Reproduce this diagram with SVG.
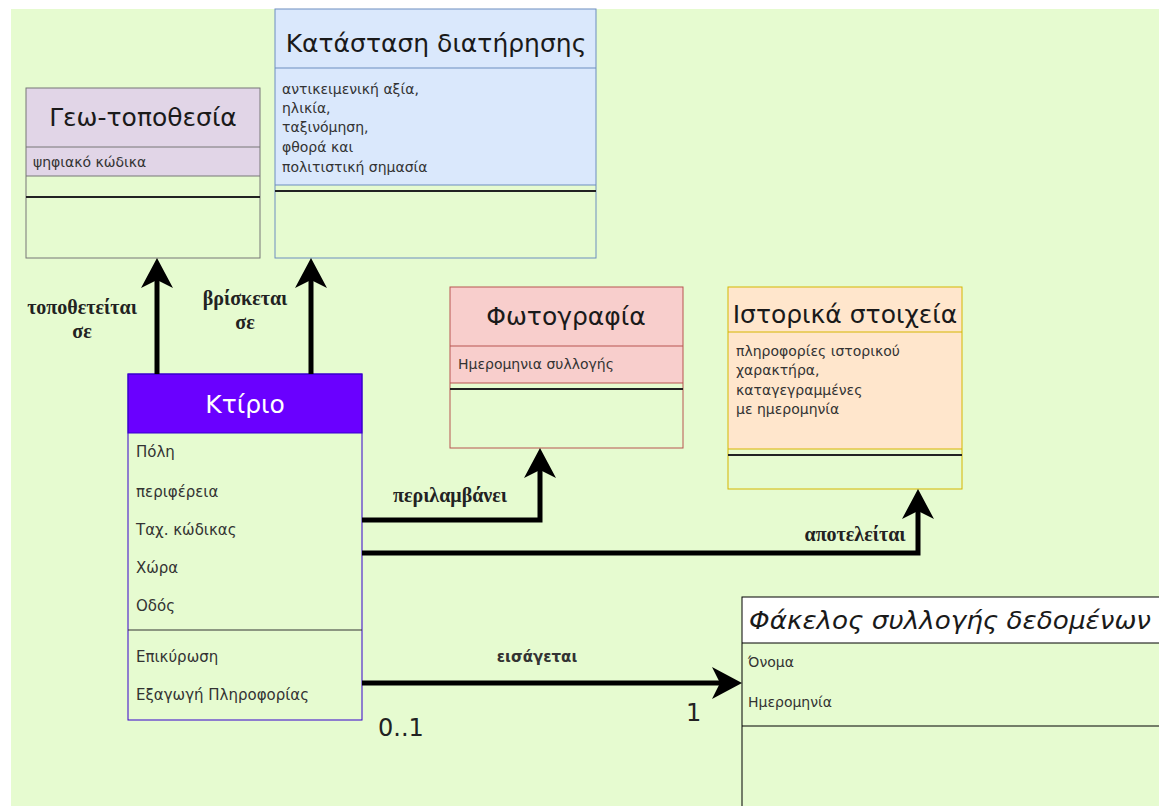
<svg xmlns="http://www.w3.org/2000/svg" width="1159" height="806" viewBox="0 0 1159 806">
<defs>
<style>
.bg{fill:#e6fbd0}
.title{font-family:"DejaVu Sans","Liberation Sans",sans-serif;font-size:25px;fill:#1a1a1a}
.attr{font-family:"DejaVu Sans","Liberation Sans",sans-serif;font-size:14px;fill:#333}
.kattr{font-family:"DejaVu Sans","Liberation Sans",sans-serif;font-size:15px;fill:#333}
.lbl{font-family:"Liberation Serif","DejaVu Serif",serif;font-size:20px;font-weight:bold;fill:#222}
.mult{font-family:"DejaVu Sans","Liberation Sans",sans-serif;font-size:24px;fill:#222}
.conn{fill:none;stroke:#000;stroke-width:5}
.thin{stroke-width:1;fill:none}
.sep{stroke:#222;stroke-width:2}
</style>
<marker id="arr" viewBox="0 0 30 32" refX="15" refY="16" markerWidth="30" markerHeight="32" markerUnits="userSpaceOnUse" orient="auto">
<path d="M0,0 L30,16 L0,32 L8,16 Z" fill="#000"/>
</marker>
</defs>
<rect x="0" y="0" width="1159" height="806" fill="#ffffff"/>
<rect class="bg" x="11" y="9" width="1148" height="797"/>

<g id="geo">
<rect x="26" y="88" width="234" height="88" fill="#e1d5e7"/>
<rect x="26" y="88" width="234" height="170" class="thin" stroke="#777"/>
<line x1="26" y1="147" x2="260" y2="147" stroke="#777"/>
<line x1="26" y1="176" x2="260" y2="176" stroke="#777"/>
<line x1="26" y1="197" x2="260" y2="197" class="sep"/>
<text class="title" x="143" y="117" text-anchor="middle" dominant-baseline="central">Γεω-τοποθεσία</text>
<text class="attr" x="33" y="167">ψηφιακό κώδικα</text>
</g>

<g id="katastasi">
<rect x="275" y="9" width="321" height="176" fill="#dae8fc"/>
<rect x="275" y="9" width="321" height="249" class="thin" stroke="#6c8ebf"/>
<line x1="275" y1="68" x2="596" y2="68" stroke="#6c8ebf"/>
<line x1="275" y1="185" x2="596" y2="185" stroke="#6c8ebf"/>
<line x1="275" y1="191" x2="596" y2="191" class="sep"/>
<text class="title" x="436" y="43" text-anchor="middle" dominant-baseline="central">Κατάσταση διατήρησης</text>
<text class="attr" x="282" y="94">αντικειμενική αξία,</text>
<text class="attr" x="282" y="113"> ηλικία,</text>
<text class="attr" x="282" y="132">ταξινόμηση,</text>
<text class="attr" x="282" y="152">φθορά και</text>
<text class="attr" x="282" y="172">πολιτιστική σημασία</text>
</g>

<g id="ktirio">
<rect x="128" y="374" width="234" height="59" fill="#6a00ff" stroke="#3700cc"/>
<rect x="128" y="374" width="234" height="346" class="thin" stroke="#3700cc"/>
<line x1="128" y1="630" x2="362" y2="630" stroke="#333"/>
<text class="title" x="245" y="404" text-anchor="middle" dominant-baseline="central" style="fill:#fff;font-size:25px">Κτίριο</text>
<text class="kattr" x="136" y="457">Πόλη</text>
<text class="kattr" x="136" y="497">περιφέρεια</text>
<text class="kattr" x="136" y="535">Ταχ. κώδικας</text>
<text class="kattr" x="136" y="573">Χώρα</text>
<text class="kattr" x="136" y="611">Οδός</text>
<text class="kattr" x="136" y="662">Επικύρωση</text>
<text class="kattr" x="136" y="700">Εξαγωγή Πληροφορίας</text>
</g>

<g id="fotografia">
<rect x="450" y="287" width="233" height="96" fill="#f8cecc"/>
<rect x="450" y="287" width="233" height="161" class="thin" stroke="#b85450"/>
<line x1="450" y1="346" x2="683" y2="346" stroke="#b85450"/>
<line x1="450" y1="383" x2="683" y2="383" stroke="#b85450"/>
<line x1="450" y1="389" x2="683" y2="389" class="sep"/>
<text class="title" x="566" y="316" text-anchor="middle" dominant-baseline="central">Φωτογραφία</text>
<text class="attr" x="458" y="369">Ημερομηνια συλλογής</text>
</g>

<g id="istorika">
<rect x="728" y="287" width="234" height="162" fill="#ffe6cc"/>
<rect x="728" y="287" width="234" height="202" class="thin" stroke="#d6b600"/>
<line x1="728" y1="332" x2="962" y2="332" stroke="#d6b600"/>
<line x1="728" y1="449" x2="962" y2="449" stroke="#d6b600"/>
<line x1="728" y1="455" x2="962" y2="455" class="sep"/>
<text class="title" x="845" y="314" text-anchor="middle" dominant-baseline="central">Ιστορικά στοιχεία</text>
<text class="attr" x="736" y="356">πληροφορίες ιστορικού</text>
<text class="attr" x="736" y="375">χαρακτήρα,</text>
<text class="attr" x="736" y="395"> καταγεγραμμένες</text>
<text class="attr" x="736" y="414"> με ημερομηνία</text>
</g>

<g id="fakelos">
<rect x="742" y="597" width="430" height="46" fill="#ffffff"/>
<rect x="742" y="597" width="430" height="224" class="thin" stroke="#000"/>
<line x1="742" y1="643" x2="1159" y2="643" stroke="#000"/>
<line x1="742" y1="726" x2="1159" y2="726" stroke="#000"/>
<text class="title" x="749" y="620" dominant-baseline="central" textLength="402" lengthAdjust="spacingAndGlyphs" style="font-style:italic;font-size:25px">Φάκελος συλλογής δεδομένων</text>
<text class="attr" x="748" y="667" style="font-size:14px">Όνομα</text>
<text class="attr" x="748" y="707" style="font-size:14px">Ημερομηνία</text>
</g>

<g id="connectors">
<path class="conn" d="M157,374 V273" marker-end="url(#arr)"/>
<path class="conn" d="M311,374 V273" marker-end="url(#arr)"/>
<path class="conn" d="M362,520 H540 V463" marker-end="url(#arr)"/>
<path class="conn" d="M362,553 H918 V504" marker-end="url(#arr)"/>
<path class="conn" d="M362,683 H727" marker-end="url(#arr)"/>
<text class="lbl" x="82" y="307" text-anchor="middle" dominant-baseline="central">τοποθετείται</text>
<text class="lbl" x="82" y="331" text-anchor="middle" dominant-baseline="central">σε</text>
<text class="lbl" x="245" y="298" text-anchor="middle" dominant-baseline="central">βρίσκεται</text>
<text class="lbl" x="245" y="322" text-anchor="middle" dominant-baseline="central">σε</text>
<text class="lbl" x="450" y="495" text-anchor="middle" dominant-baseline="central">περιλαμβάνει</text>
<text class="lbl" x="855" y="534" text-anchor="middle" dominant-baseline="central">αποτελείται</text>
<text class="attr" x="537" y="657" text-anchor="middle" dominant-baseline="central" style="font-size:15px;font-weight:bold;fill:#333">εισάγεται</text>
<text class="mult" x="378" y="736">0..1</text>
<text class="mult" x="686" y="721">1</text>
</g>
</svg>
